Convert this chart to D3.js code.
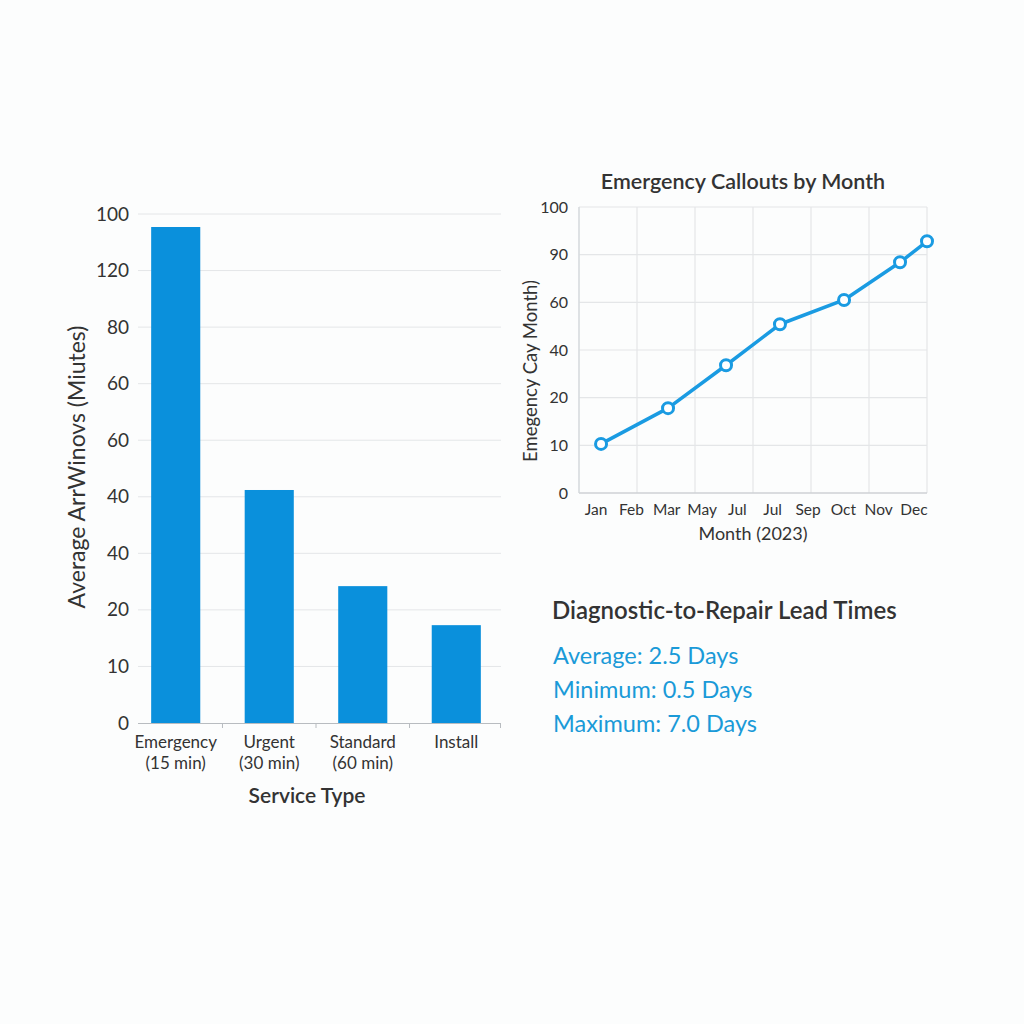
<!DOCTYPE html>
<html>
<head>
<meta charset="utf-8">
<script src="https://cdn.jsdelivr.net/npm/d3@7"></script>
<style>
  body { margin: 0; background: #fcfdfd; }
  svg { font-family: Lato, "Open Sans", sans-serif; }
</style>
</head>
<body>
<svg id="chart" width="1024" height="1024"></svg>
<script>
// left bar chart
var serviceTypes = ["Emergency|(15 min)", "Urgent|(30 min)", "Standard|(60 min)", "Install"];
var arrivalValues = [87.7, 41.2, 24.2, 17.3];
var barTickLabels = ["0", "10", "20", "40", "40", "60", "60", "80", "120", "100"];

// right line chart
var monthLabels = ["Jan", "Feb", "Mar", "May", "Jul", "Jul", "Sep", "Oct", "Nov", "Dec"];
var calloutMonths = [0.76, 3.07, 5.07, 6.93, 9.14, 11.07, 12.0];
var calloutValues = [10.3, 17.8, 26.8, 35.4, 40.5, 48.4, 52.8];
var lineTickLabels = ["0", "10", "20", "40", "60", "90", "100"];

// lead time text
var leadTimeLines = ["Average: 2.5 Days", "Minimum: 0.5 Days", "Maximum: 7.0 Days"];

var blue = "#0a90dc";
var lineBlue = "#1a9be2";
var gridColor = "#e4e6e8";
var textColor = "#333";

var svg = d3.select("#chart");
svg.append("rect").attr("width", 1024).attr("height", 1024).attr("fill", "#fcfdfd");

// ---------- bar chart ----------
var x = d3.scaleBand()
    .domain(serviceTypes)
    .range([129, 503])
    .paddingInner(0.475)
    .paddingOuter(0.237);

var y = d3.scaleLinear()
    .domain([0, 90])
    .range([723, 214]);

var barTicks = d3.range(0, 91, 10);

svg.append("g").selectAll("line")
    .data(barTicks.slice(1))
    .enter()
    .append("line")
    .attr("x1", 138)
    .attr("x2", 501)
    .attr("y1", d => y(d))
    .attr("y2", d => y(d))
    .attr("stroke", gridColor)
    .attr("stroke-width", 1);

svg.append("g").selectAll("text")
    .data(barTicks)
    .enter()
    .append("text")
    .attr("x", 129)
    .attr("y", d => y(d) + 6.5)
    .attr("text-anchor", "end")
    .attr("font-size", 19)
    .attr("fill", textColor)
    .text((d, i) => barTickLabels[i]);

svg.append("g").selectAll("rect")
    .data(arrivalValues)
    .enter()
    .append("rect")
    .attr("x", (d, i) => x(serviceTypes[i]))
    .attr("y", d => y(d))
    .attr("width", x.bandwidth())
    .attr("height", d => y(0) - y(d))
    .attr("fill", blue);

// x axis line and ticks between bands
svg.append("line")
    .attr("x1", 138).attr("x2", 501)
    .attr("y1", y(0) + 0.5).attr("y2", y(0) + 0.5)
    .attr("stroke", "#b8bcc0").attr("stroke-width", 1.2);

svg.append("g").selectAll("line")
    .data(serviceTypes.slice(1))
    .enter()
    .append("line")
    .attr("x1", d => x(d) - x.step() * x.paddingInner() / 2)
    .attr("x2", d => x(d) - x.step() * x.paddingInner() / 2)
    .attr("y1", y(0))
    .attr("y2", y(0) + 5)
    .attr("stroke", "#b8bcc0");

svg.append("line")
    .attr("x1", 500.5).attr("x2", 500.5)
    .attr("y1", y(0)).attr("y2", y(0) + 5)
    .attr("stroke", "#b8bcc0");

var xLabels = svg.append("g").selectAll("text")
    .data(serviceTypes)
    .enter()
    .append("text")
    .attr("x", d => x(d) + x.bandwidth() / 2)
    .attr("y", 748)
    .attr("text-anchor", "middle")
    .attr("font-size", 17)
    .attr("fill", textColor);

xLabels.selectAll("tspan")
    .data(d => d.split("|"))
    .enter()
    .append("tspan")
    .attr("x", function () { return d3.select(this.parentNode).attr("x"); })
    .attr("dy", (d, i) => i === 0 ? 0 : 21)
    .text(d => d);

svg.append("text")
    .attr("x", 307)
    .attr("y", 803)
    .attr("text-anchor", "middle")
    .attr("font-size", 21)
    .attr("font-weight", 600)
    .attr("fill", textColor)
    .text("Service Type");

svg.append("text")
    .attr("transform", "translate(85,467) rotate(-90)")
    .attr("text-anchor", "middle")
    .attr("font-size", 23)
    .attr("fill", textColor)
    .text("Average ArrWinovs (Miutes)");

// ---------- line chart ----------
var lx = d3.scaleLinear()
    .domain([0, 12])
    .range([579, 927]);

var ly = d3.scaleLinear()
    .domain([0, 60])
    .range([493, 207]);

var lineTicks = d3.range(0, 61, 10);

svg.append("g").selectAll("line")
    .data(lineTicks)
    .enter()
    .append("line")
    .attr("x1", lx(0))
    .attr("x2", lx(12))
    .attr("y1", d => ly(d))
    .attr("y2", d => ly(d))
    .attr("stroke", gridColor)
    .attr("stroke-width", 1.2);

svg.append("g").selectAll("line")
    .data(d3.range(0, 13, 2))
    .enter()
    .append("line")
    .attr("x1", d => lx(d))
    .attr("x2", d => lx(d))
    .attr("y1", ly(60))
    .attr("y2", ly(0))
    .attr("stroke", gridColor)
    .attr("stroke-width", 1.2);

svg.append("line")
    .attr("x1", lx(0)).attr("x2", lx(12))
    .attr("y1", ly(0)).attr("y2", ly(0))
    .attr("stroke", "#c4c8cc").attr("stroke-width", 1.2);
svg.append("line")
    .attr("x1", lx(0)).attr("x2", lx(0))
    .attr("y1", ly(60)).attr("y2", ly(0))
    .attr("stroke", "#d4d8dc").attr("stroke-width", 1.2);

svg.append("g").selectAll("text")
    .data(lineTicks)
    .enter()
    .append("text")
    .attr("x", 568)
    .attr("y", d => ly(d) + 5.5)
    .attr("text-anchor", "end")
    .attr("font-size", 16)
    .attr("fill", textColor)
    .text((d, i) => lineTickLabels[i]);

var monthPos = d3.scalePoint()
    .domain(d3.range(monthLabels.length))
    .range([lx(0.59), lx(11.55)]);

svg.append("g").selectAll("text")
    .data(monthLabels)
    .enter()
    .append("text")
    .attr("x", (d, i) => monthPos(i))
    .attr("y", 515)
    .attr("text-anchor", "middle")
    .attr("font-size", 15.5)
    .attr("fill", textColor)
    .text(d => d);

svg.append("text")
    .attr("x", 753)
    .attr("y", 540)
    .attr("text-anchor", "middle")
    .attr("font-size", 18)
    .attr("fill", textColor)
    .text("Month (2023)");

svg.append("text")
    .attr("transform", "translate(537,371) rotate(-90)")
    .attr("text-anchor", "middle")
    .attr("font-size", 18.5)
    .attr("fill", textColor)
    .text("Emegency Cay Month)");

svg.append("text")
    .attr("x", 743)
    .attr("y", 189)
    .attr("text-anchor", "middle")
    .attr("font-size", 21.5)
    .attr("font-weight", 600)
    .attr("fill", textColor)
    .text("Emergency Callouts by Month");

var points = calloutMonths.map((m, i) => [m, calloutValues[i]]);

svg.append("path")
    .datum(points)
    .attr("fill", "none")
    .attr("stroke", lineBlue)
    .attr("stroke-width", 3.5)
    .attr("stroke-linejoin", "round")
    .attr("d", d3.line().x(d => lx(d[0])).y(d => ly(d[1])));

svg.append("g").selectAll("circle")
    .data(points)
    .enter()
    .append("circle")
    .attr("cx", d => lx(d[0]))
    .attr("cy", d => ly(d[1]))
    .attr("r", 5.5)
    .attr("fill", "#fff")
    .attr("stroke", lineBlue)
    .attr("stroke-width", 3);

// ---------- lead times ----------
svg.append("text")
    .attr("x", 552)
    .attr("y", 619)
    .attr("font-size", 24)
    .attr("font-weight", 600)
    .attr("fill", textColor)
    .text("Diagnostic-to-Repair Lead Times");

svg.append("g").selectAll("text")
    .data(leadTimeLines)
    .enter()
    .append("text")
    .attr("x", 553)
    .attr("y", (d, i) => 664 + i * 34)
    .attr("font-size", 23.5)
    .attr("fill", "#1a9ad8")
    .text(d => d);
</script>
</body>
</html>
